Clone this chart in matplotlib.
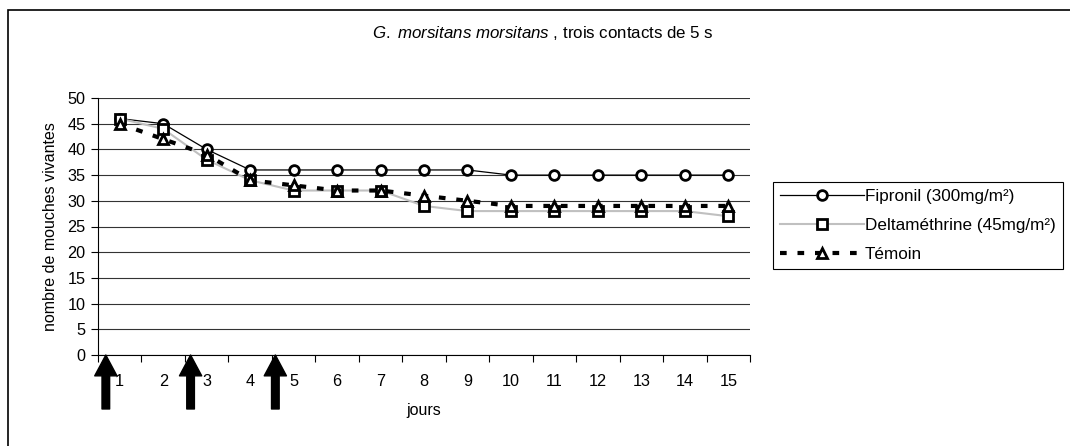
import matplotlib
matplotlib.use('Agg')
import matplotlib.pyplot as plt
from matplotlib.lines import Line2D
from matplotlib.patches import Rectangle

plt.rcParams['font.family'] = ['Liberation Sans', 'DejaVu Sans']
plt.rcParams['font.size'] = 11.5
plt.rcParams['mathtext.fontset'] = 'custom'
plt.rcParams['mathtext.it'] = 'Liberation Sans:italic'
plt.rcParams['mathtext.rm'] = 'Liberation Sans'

jours = list(range(1, 16))
fipronil = [46, 45, 40, 36, 36, 36, 36, 36, 36, 35, 35, 35, 35, 35, 35]
deltamethrine = [46, 44, 38, 34, 32, 32, 32, 29, 28, 28, 28, 28, 28, 28, 27]
temoin = [45, 42, 39, 34, 33, 32, 32, 31, 30, 29, 29, 29, 29, 29, 29]

# days on which the three 5 s contacts were given
contacts = [0.68, 2.63, 4.58]

fig = plt.figure(figsize=(10.7, 4.46), dpi=100)
ax = fig.add_axes([98 / 1070, 91 / 446, 652 / 1070, 257 / 446])

# outer chart frame (top and left edges)
fig.add_artist(Rectangle((8 / 1070, -0.1), 1.2, 1 - 10 / 446 + 0.1,
                         transform=fig.transFigure, fill=False,
                         edgecolor='black', linewidth=1.2))

mk = dict(markersize=7, markerfacecolor='white', markeredgecolor='black',
          markeredgewidth=2.0)
dash = (0, (1.6, 2.6))
ax.plot(jours, fipronil, color='black', linewidth=0.9, marker='o',
        label='Fipronil (300mg/m²)', zorder=3, **mk)
ax.plot(jours, deltamethrine, color='#c0c0c0', linewidth=1.5, marker='s',
        label='Deltaméthrine (45mg/m²)', zorder=3, **mk)
ax.plot(jours, temoin, color='black', linewidth=3.0, linestyle=dash,
        marker='^', label='Témoin', zorder=4, **mk)

ax.set_xlim(0.5, 15.5)
ax.set_ylim(0, 50)
ax.set_yticks(range(0, 51, 5))
ax.set_xticks([x + 0.5 for x in range(0, 16)])
ax.set_xticklabels([])
ax.set_xticks(jours, minor=True)
ax.set_xticklabels([str(j) for j in jours], minor=True)
ax.tick_params(axis='x', which='minor', length=0, pad=14, labelsize=11.7)
ax.tick_params(axis='x', which='major', direction='out', length=5, width=0.8)
ax.tick_params(axis='y', direction='out', length=5, width=0.8, labelsize=11.7, pad=4)
ax.yaxis.grid(True, color='#333333', linewidth=0.8)
ax.set_axisbelow(True)
for s in ['top', 'right']:
    ax.spines[s].set_visible(False)
ax.spines['left'].set_linewidth(0.8)
ax.spines['bottom'].set_linewidth(0.8)

ax.set_ylabel('nombre de mouches vivantes', labelpad=7)
ax.set_xlabel('jours', labelpad=10)

for c in contacts:
    ax.annotate('', xy=(c, 0), xycoords=('data', 'axes fraction'),
                xytext=(c, -0.21), textcoords=('data', 'axes fraction'),
                arrowprops=dict(facecolor='black', edgecolor='black',
                                width=5.5, headwidth=16, headlength=15, shrink=0),
                annotation_clip=False)

fig.text(543 / 1070, 1 - 33 / 446,
         r'$\mathit{G.\ morsitans\ morsitans}$ , trois contacts de 5 s',
         ha='center', va='center', fontsize=12.2)

handles = [
    Line2D([], [], color='black', linewidth=0.9, marker='o', **mk),
    Line2D([], [], color='#c0c0c0', linewidth=1.5, marker='s', **mk),
    Line2D([], [], color='black', linewidth=3.0, linestyle=dash, marker='^', **mk),
]
leg = fig.legend(handles, ['Fipronil (300mg/m²)', 'Deltaméthrine (45mg/m²)', 'Témoin'],
                 loc='upper left', bbox_to_anchor=(773 / 1070, 1 - 182 / 446),
                 borderaxespad=0, frameon=True, fancybox=False, edgecolor='black',
                 framealpha=1, handlelength=4.9, handletextpad=0.05,
                 labelspacing=0.8, borderpad=0.42, fontsize=12.3)
leg.get_frame().set_linewidth(0.8)

fig.savefig('out.png', dpi=100)
